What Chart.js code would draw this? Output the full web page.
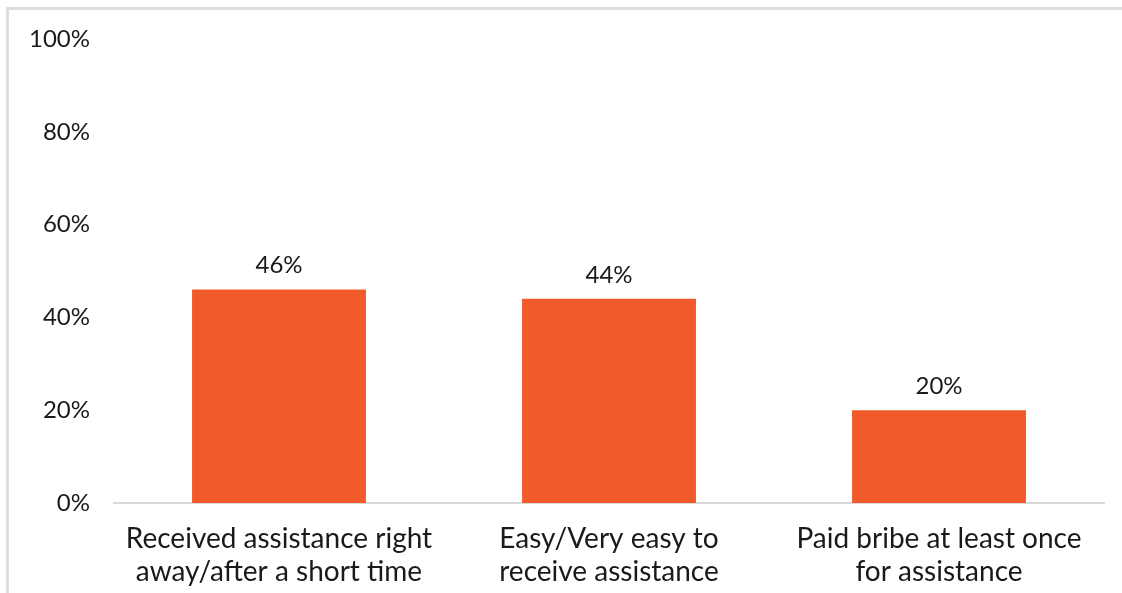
<!DOCTYPE html>
<html lang="en">
<head>
    <meta charset="UTF-8">
    <title>Assistance</title>
    <script src="https://cdn.jsdelivr.net/npm/chart.js"></script>
    <style>
        html, body {
            margin: 0;
            padding: 0;
            background: #ffffff;
            overflow: hidden;
        }
        #frame {
            position: absolute;
            left: 6px;
            top: 7px;
            width: 1130px;
            height: 600px;
            border: 3px solid #dedede;
            box-sizing: border-box;
        }
        #chart-container {
            position: absolute;
            left: 0;
            top: 0;
            width: 1122px;
            height: 593px;
        }
    </style>
</head>
<body>
    <div id="frame"></div>
    <div id="chart-container">
        <canvas id="assist-chart" width="1122" height="593"></canvas>
    </div>

    <script>
        const categories = [
            ['Received assistance right', 'away/after a short time'],
            ['Easy/Very easy to', 'receive assistance'],
            ['Paid bribe at least once', 'for assistance']
        ];
        const shares = [46, 44, 20];
        const yTicks = [0, 20, 40, 60, 80, 100];

        const barColor = '#F15A2B';
        const textColor = '#1a1a1a';
        const fontFamily = "'Lato', 'Open Sans', sans-serif";

        // writes the value above each bar
        const valueLabels = {
            id: 'valueLabels',
            afterDatasetsDraw(chart) {
                const ctx = chart.ctx;
                const meta = chart.getDatasetMeta(0);
                ctx.save();
                ctx.fillStyle = textColor;
                ctx.font = '24px ' + fontFamily;
                ctx.textAlign = 'center';
                ctx.textBaseline = 'bottom';
                meta.data.forEach((bar, i) => {
                    ctx.fillText(shares[i] + '%', bar.x, bar.y - 12);
                });
                ctx.restore();
            }
        };

        new Chart(document.getElementById('assist-chart'), {
            type: 'bar',
            data: {
                labels: categories,
                datasets: [{
                    data: shares,
                    backgroundColor: barColor,
                    borderWidth: 0,
                    categoryPercentage: 1,
                    barPercentage: 0.527
                }]
            },
            options: {
                responsive: false,
                animation: false,
                layout: {
                    padding: { top: 39, right: 18, bottom: 0, left: 0 }
                },
                plugins: {
                    legend: { display: false },
                    tooltip: { enabled: false }
                },
                scales: {
                    x: {
                        grid: { display: false, drawTicks: false },
                        border: { display: true, color: '#d9d9d9', width: 2 },
                        ticks: {
                            color: textColor,
                            padding: 19,
                            maxRotation: 0,
                            autoSkip: false,
                            font: { family: fontFamily, size: 28, lineHeight: 1.18 }
                        },
                        afterFit(scale) { scale.height = 90; }
                    },
                    y: {
                        min: 0,
                        max: 100,
                        afterBuildTicks(scale) {
                            scale.ticks = yTicks.map(v => ({ value: v }));
                        },
                        grid: { display: false, drawTicks: false },
                        border: { display: false },
                        ticks: {
                            color: textColor,
                            padding: 24,
                            font: { family: fontFamily, size: 24 },
                            callback: v => v + '%'
                        },
                        afterFit(scale) { scale.width = 114; }
                    }
                }
            },
            plugins: [valueLabels]
        });
    </script>
</body>
</html>
